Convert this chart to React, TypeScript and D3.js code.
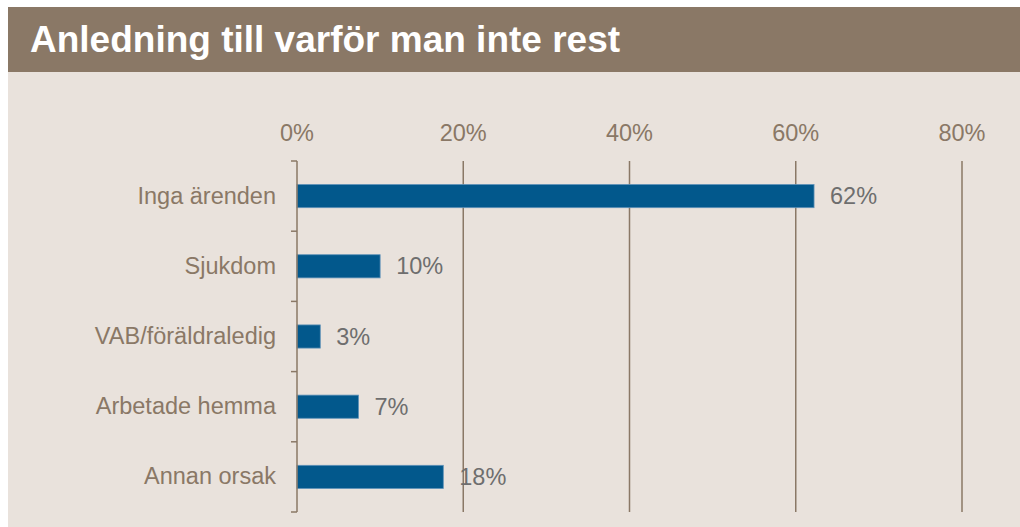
import React, { useEffect, useRef } from "react";
import * as d3 from "d3";

const title = "Anledning till varför man inte rest";
const categories = ["Inga ärenden", "Sjukdom", "VAB/föräldraledig", "Arbetade hemma", "Annan orsak"];
const values = [0.622, 0.1, 0.028, 0.074, 0.176];
const xTicks = [0, 0.2, 0.4, 0.6, 0.8];

const W = 1020;
const H = 527;

export default function App() {
  const ref = useRef<SVGSVGElement>(null);

  useEffect(() => {
    const svg = d3.select(ref.current);
    svg.selectAll("*").remove();

    const font = "Arial, 'Liberation Sans', sans-serif";
    const brown = "#8a7866";

    // background panel + title bar
    svg.append("rect").attr("x", 8).attr("y", 7).attr("width", W - 8).attr("height", H - 7).attr("fill", "#e9e2dc");
    svg.append("rect").attr("x", 8).attr("y", 7).attr("width", W - 8).attr("height", 65).attr("fill", brown);
    svg
      .append("text")
      .attr("x", 30)
      .attr("y", 52)
      .attr("fill", "#ffffff")
      .style("font-family", font)
      .style("font-weight", "bold")
      .style("font-size", "37px")
      .text(title);

    const x = d3.scaleLinear().domain([0, 0.8]).range([297, 962]);
    const y = d3.scaleBand<string>().domain(categories).range([161, 512]).padding(0);

    const g = svg.append("g");

    // vertical gridlines
    g.selectAll("line.grid")
      .data(xTicks.slice(1))
      .join("line")
      .attr("class", "grid")
      .attr("x1", (d) => x(d))
      .attr("x2", (d) => x(d))
      .attr("y1", y.range()[0])
      .attr("y2", y.range()[1])
      .attr("stroke", brown)
      .attr("stroke-width", 1.5);

    // x tick labels on top
    g.selectAll("text.xt")
      .data(xTicks)
      .join("text")
      .attr("class", "xt")
      .attr("x", (d) => x(d))
      .attr("y", 141)
      .attr("text-anchor", "middle")
      .attr("fill", brown)
      .style("font-family", font)
      .style("font-size", "23.5px")
      .text((d) => d3.format(".0%")(d));

    // bars
    const bh = y.bandwidth() * 0.33;
    g.selectAll("rect.bar")
      .data(values)
      .join("rect")
      .attr("class", "bar")
      .attr("x", x(0))
      .attr("y", (d, i) => y(categories[i])! + y.bandwidth() / 2 - bh / 2)
      .attr("width", (d) => x(d) - x(0))
      .attr("height", bh)
      .attr("fill", "#02588c")
      .attr("stroke", "#5f92b8")
      .attr("stroke-width", 0.8);

    // value labels
    g.selectAll("text.val")
      .data(values)
      .join("text")
      .attr("class", "val")
      .attr("x", (d) => x(d) + 16)
      .attr("y", (d, i) => y(categories[i])! + y.bandwidth() / 2 + 8)
      .attr("fill", "#6e6e6e")
      .style("font-family", font)
      .style("font-size", "23.5px")
      .text((d) => d3.format(".0%")(d));

    // y axis
    const yAxis = g
      .append("g")
      .attr("transform", `translate(${x(0)},0)`)
      .call(d3.axisLeft(y).tickSize(0).tickPadding(21));
    yAxis.select(".domain").remove();
    yAxis
      .selectAll("text")
      .attr("fill", brown)
      .attr("dy", "0.32em")
      .style("font-family", font)
      .style("font-size", "23.5px");

    const bounds = categories.map((c) => y(c)!).concat([y.range()[1]]);
    g.selectAll("line.ytick")
      .data(bounds)
      .join("line")
      .attr("class", "ytick")
      .attr("x1", x(0) - 6)
      .attr("x2", x(0))
      .attr("y1", (d) => d)
      .attr("y2", (d) => d)
      .attr("stroke", brown)
      .attr("stroke-width", 1.5);
    g.append("line")
      .attr("x1", x(0))
      .attr("x2", x(0))
      .attr("y1", y.range()[0])
      .attr("y2", y.range()[1])
      .attr("stroke", brown)
      .attr("stroke-width", 1.5);
  }, []);

  return (
    <svg
      ref={ref}
      width={W}
      height={H}
      style={{ position: "absolute", left: 0, top: 0, display: "block" }}
    />
  );
}
